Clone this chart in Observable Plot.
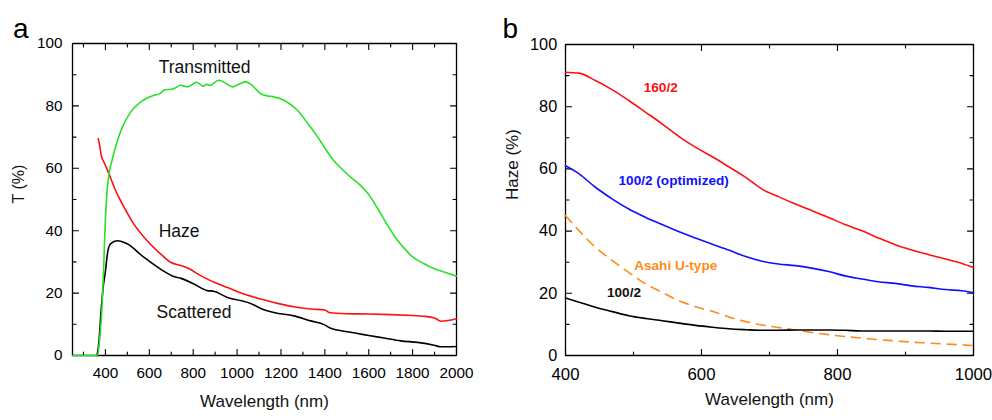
<!DOCTYPE html>
<html><head><meta charset="utf-8">
<script src="https://cdn.jsdelivr.net/npm/d3@7"></script>
<script src="https://cdn.jsdelivr.net/npm/@observablehq/plot@0.6"></script>
<style>
body{margin:0;background:#fff}
#wrap{display:flex;width:992px;height:420px;background:#fff}
</style>
</head><body><div id="wrap"></div>
<script>
// ---------- Panel a data ----------
const transWl = [250,362,375,385,393,400,408,416,430,446,477,515,568,621,650,670,700,720,742,773,800,816,840,849,860,875,917,950,978,1010,1039,1065,1107,1140,1168,1214,1275,1328,1360,1400,1440,1480,1520,1560,1600,1640,1680,1720,1760,1800,1850,1900,1950,2000];
const transT  = [0,0,6,16,30,44,53,58,62.5,66.8,73.2,78,81.6,83.4,84,85.2,85.3,85.8,86.6,86.1,87,87.6,86.5,86.3,86.9,86.6,88.2,87.2,86.1,87,87.7,86.8,83.9,83.2,82.9,81.8,78.6,73.8,70.8,66.5,62.5,59.6,57,54.7,51.6,47.2,42.4,38,34.5,31.6,29.5,27.8,26.6,25.4];
const hazeWl  = [367,374,381,393,416,446,477,529,590,651,697,740,773,834,879,956,1031,1108,1184,1259,1336,1400,1419,1500,1600,1700,1800,1850,1900,1930,1960,2000];
const hazeT   = [69.5,67.3,64.1,62,58.3,52.9,48.6,42.2,36.8,32.6,29.9,28.9,28.1,25.6,24,21.8,19.7,18.1,16.7,15.6,14.9,14.6,13.8,13.4,13.3,13.1,12.8,12.6,12,11,11.2,11.8];
const scatWl  = [362,370,380,390,400,410,423,454,499,575,651,712,742,803,864,894,956,1016,1062,1108,1168,1259,1336,1397,1427,1504,1594,1670,1746,1822,1898,1928,2000];
const scatT   = [0,4,14,22,27,33,35.8,36.8,35.8,31.5,27.7,25.3,24.8,22.9,20.8,20.6,18.6,17.6,16.7,15.1,13.8,12.7,11.1,9.9,8.7,7.6,6.5,5.6,4.7,4.2,3.3,2.8,2.9];
const aLabels = ["Transmitted","Haze","Scattered"];
const aLabelX = [643,643,633];
const aLabelY = [92.4,39.7,13.7];
const aXDomain = [250, 2000];
const aXTicks = [400,600,800,1000,1200,1400,1600,1800,2000];
const aXMinor = [300,500,700,900,1100,1300,1500,1700,1900];

// ---------- Panel b data ----------
const bWl    = [400,420,444,469,493,518,542,567,591,616,640,665,689,713,738,762,787,811,836,860,885,909,934,959,983,1000];
const b160   = [91.1,90.8,88.4,85.4,82,78.2,74.5,70.4,67,63.9,60.7,57.3,53.5,51.1,48.7,46.6,44.4,42.1,40.1,37.8,35.6,33.9,32.4,31,29.6,28.3];
const b100opt= [61,58.4,54.1,50.3,47.1,44.4,42.1,39.8,37.8,35.8,33.9,31.8,30.3,29.4,28.9,28.1,27,25.6,24.6,23.7,23.2,22.4,21.9,21.2,20.8,20.2];
const b100   = [18.5,17.1,15.5,14.1,12.8,11.9,11.2,10.4,9.7,9.1,8.6,8.3,8.1,8.1,8.2,8.2,8.2,8.1,7.9,7.9,7.9,7.9,7.9,7.8,7.8,7.8];
const bAsahi = [45,40.1,34.8,30.5,26.7,23,20.3,17.6,15.7,14.2,12.4,10.9,9.8,9.0,8.2,7.4,6.7,6.1,5.6,5.1,4.7,4.3,4,3.7,3.4,3.2];
const bLabels = ["160/2","100/2 (optimized)","Asahi U-type","100/2"];
const bLabelX = [515,478,501,461];
const bLabelY = [86.0,56.3,28.9,20.1];
const bXDomain = [400, 1000];
const bXTicks = [400,600,800,1000];
const bXMinor = [500,700,900];

const yDomain = [0, 100];
const yTicks = [0,20,40,60,80,100];
const yMinor = [10,30,50,70,90];

// ---------- styles ----------
const FONT = '"Liberation Sans", Arial, Helvetica, sans-serif';
const C_GREEN = "#2be02b", C_RED = "#ff1010", C_BLUE = "#1010ff", C_ORANGE = "#ff8c1a", C_BLACK = "#000";
const bColors = [C_RED, C_BLUE, C_ORANGE, "#111"];

const zip = (xs, ys) => xs.map((x, i) => ({x, y: ys[i]}));
const lbl = (ts, xs, ys, cs) => ts.map((t, i) => ({t, x: xs[i], y: ys[i], c: cs ? cs[i] : "#111"}));
const fmt = d => String(d);

// frame outline and inward ticks, built from the domains and tick arrays
function boxMarks(xDom, xMajor, xMinor, pw, ph) {
  const [x0, x1] = xDom, [y0, y1] = yDomain;
  const kx = (x1 - x0) / pw, ky = (y1 - y0) / ph;   // data units per pixel
  const segs = [];
  let k = 0;
  const seg = (ax, ay, bx, by) => { segs.push({x: ax, y: ay, k}, {x: bx, y: by, k}); k++; };
  for (const [vals, len] of [[xMajor, 6], [xMinor, 3.5]]) for (const v of vals) {
    seg(v, y0, v, y0 + len * ky);
    seg(v, y1, v, y1 - len * ky);
  }
  for (const [vals, len] of [[yTicks, 6], [yMinor, 3.5]]) for (const v of vals) {
    seg(x0, v, x0 + len * kx, v);
    seg(x1, v, x1 - len * kx, v);
  }
  const corners = [{x: x0, y: y0}, {x: x1, y: y0}, {x: x1, y: y1}, {x: x0, y: y1}, {x: x0, y: y0}];
  return [
    Plot.line(segs, {x: "x", y: "y", z: "k", stroke: "#000", strokeWidth: 1.1}),
    Plot.line(corners, {x: "x", y: "y", stroke: "#000", strokeWidth: 1.3, strokeLinejoin: "miter", strokeLinecap: "square"})
  ];
}

// Panel a
const mA = {l: 72, r: 40, t: 43, b: 65};
const pwA = 496 - mA.l - mA.r, phA = 420 - mA.t - mA.b;
const plotA = Plot.plot({
  width: 496, height: 420,
  marginLeft: mA.l, marginRight: mA.r, marginTop: mA.t, marginBottom: mA.b,
  x: {domain: aXDomain}, y: {domain: yDomain},
  style: {fontFamily: FONT, color: "#000", background: "#fff", overflow: "visible"},
  marks: [
    Plot.axisX(aXTicks, {anchor: "bottom", tickSize: 0, tickPadding: 12, fontSize: 15.3, tickFormat: fmt, label: null}),
    Plot.axisY(yTicks, {anchor: "left", tickSize: 0, tickPadding: 10, fontSize: 15.3, tickFormat: fmt, label: null}),
    Plot.text(lbl(aLabels, aLabelX, aLabelY), {x: "x", y: "y", text: "t", textAnchor: "start", fontSize: 17.5, fill: "#111"}),
    Plot.text(["Wavelength (nm)"], {text: d => d, frameAnchor: "bottom", dy: 51, fontSize: 17, fill: "#111"}),
    Plot.text(["T (%)"], {text: d => d, frameAnchor: "left", dx: -53.7, dy: 4, rotate: -90, fontSize: 16, fill: "#111"}),
    Plot.text(["a"], {text: d => d, frameAnchor: "top-left", textAnchor: "start", dx: -59.5, dy: -25.3, fontSize: 28, fill: "#000"}),
    ...boxMarks(aXDomain, aXTicks, aXMinor, pwA, phA),
    Plot.line(zip(scatWl, scatT), {x: "x", y: "y", stroke: C_BLACK, strokeWidth: 1.6, curve: "monotone-x"}),
    Plot.line(zip(hazeWl, hazeT), {x: "x", y: "y", stroke: C_RED, strokeWidth: 1.6, curve: "monotone-x"}),
    Plot.line(zip(transWl, transT), {x: "x", y: "y", stroke: C_GREEN, strokeWidth: 1.6, curve: "monotone-x"})
  ]
});

// Panel b
const mB = {l: 69, r: 19, t: 44, b: 65};
const pwB = 496 - mB.l - mB.r, phB = 420 - mB.t - mB.b;
const plotB = Plot.plot({
  width: 496, height: 420,
  marginLeft: mB.l, marginRight: mB.r, marginTop: mB.t, marginBottom: mB.b,
  x: {domain: bXDomain}, y: {domain: yDomain},
  style: {fontFamily: FONT, color: "#000", background: "#fff", overflow: "visible"},
  marks: [
    Plot.axisX(bXTicks, {anchor: "bottom", tickSize: 0, tickPadding: 13, fontSize: 16.8, tickFormat: fmt, label: null}),
    Plot.axisY(yTicks, {anchor: "left", tickSize: 0, tickPadding: 8.3, fontSize: 16.3, tickFormat: fmt, label: null}),
    Plot.text(lbl(bLabels, bLabelX, bLabelY, bColors), {x: "x", y: "y", text: "t", textAnchor: "start", fontSize: 13.6, fontWeight: "bold", fill: "c"}),
    Plot.text(["Wavelength (nm)"], {text: d => d, frameAnchor: "bottom", dy: 49.5, fontSize: 17, fill: "#111"}),
    Plot.text(["Haze (%)"], {text: d => d, frameAnchor: "left", dx: -52.7, dy: 0, rotate: -90, fontSize: 17, fill: "#111"}),
    Plot.text(["b"], {text: d => d, frameAnchor: "top-left", textAnchor: "start", dx: -63, dy: -26.3, fontSize: 28, fill: "#000"}),
    ...boxMarks(bXDomain, bXTicks, bXMinor, pwB, phB),
    Plot.line(zip(bWl, bAsahi), {x: "x", y: "y", stroke: C_ORANGE, strokeWidth: 1.6, strokeDasharray: "9,7", curve: "monotone-x"}),
    Plot.line(zip(bWl, b100), {x: "x", y: "y", stroke: C_BLACK, strokeWidth: 1.6, curve: "monotone-x"}),
    Plot.line(zip(bWl, b100opt), {x: "x", y: "y", stroke: C_BLUE, strokeWidth: 1.6, curve: "monotone-x"}),
    Plot.line(zip(bWl, b160), {x: "x", y: "y", stroke: C_RED, strokeWidth: 1.6, curve: "monotone-x"})
  ]
});

const wrap = document.getElementById("wrap");
wrap.appendChild(plotA);
wrap.appendChild(plotB);
</script></body></html>
